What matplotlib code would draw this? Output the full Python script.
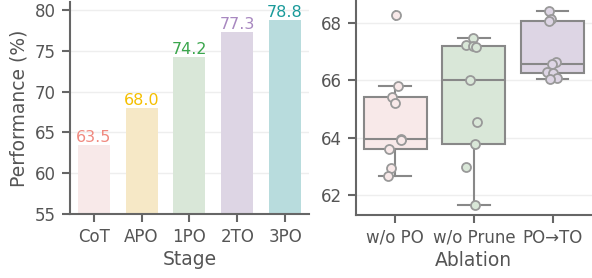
import numpy as np
import matplotlib
matplotlib.use("Agg")
import matplotlib.pyplot as plt

# ---- data ----
stages = ["CoT", "APO", "1PO", "2TO", "3PO"]
stage_perf = [63.5, 68.0, 74.2, 77.3, 78.8]
bar_colors = ["#f8e9e9", "#f6e8c6", "#d9e7d8", "#ddd5e4", "#b8dcdd"]
label_colors = ["#f08a80", "#f5bf00", "#3aa64c", "#a888c0", "#1a9a9a"]

ablations = ["w/o PO", "w/o Prune", "PO\u2192TO"]
wo_po = [68.28, 65.80, 65.43, 65.20, 63.94, 63.90, 63.59, 62.93, 62.64]
wo_prune = [67.49, 67.22, 67.20, 67.15, 66.00, 64.53, 63.78, 62.98, 61.65]
po_to = [68.42, 68.14, 68.05, 66.64, 66.56, 66.27, 66.24, 66.07, 66.05]
box_colors = ["#f8e9e9", "#d9e7d8", "#ddd5e4"]

plt.rcParams["font.family"] = "DejaVu Sans"
TXT = "#555555"
SPINE = "#666666"

fig = plt.figure(figsize=(5.92, 2.78), dpi=100)
ax1 = fig.add_axes([0.118, 0.230, 0.404, 0.763])
ax2 = fig.add_axes([0.601, 0.227, 0.399, 0.773])

# ---- left: bars ----
x = np.arange(len(stages))
ax1.bar(x, stage_perf, width=0.67, color=bar_colors, zorder=2)
for xi, v, c in zip(x, stage_perf, label_colors):
    ax1.text(xi, v, f"{v:.1f}", ha="center", va="bottom", color=c, fontsize=11.5)
ax1.set_xlim(-0.5, 4.5)
ax1.set_ylim(55, 81)
ax1.set_yticks([55, 60, 65, 70, 75, 80])
ax1.set_xticks(x)
ax1.set_xticklabels(stages)
ax1.set_xlabel("Stage", fontsize=13.5, color=TXT, labelpad=3)
ax1.set_ylabel("Performance (%)", fontsize=13.5, color=TXT, labelpad=5)

# ---- right: boxes ----
data = [wo_po, wo_prune, po_to]
bp = ax2.boxplot(data, positions=range(3), widths=0.8, patch_artist=True,
                 medianprops=dict(color="#888888", linewidth=1.5),
                 boxprops=dict(edgecolor="#888888", linewidth=1.5),
                 whiskerprops=dict(color="#888888", linewidth=1.5),
                 capprops=dict(color="#888888", linewidth=1.5),
                 flierprops=dict(marker="d", markerfacecolor="#888888",
                                 markeredgecolor="#888888", markersize=5),
                 capwidths=0.4, zorder=2)
for patch, c in zip(bp["boxes"], box_colors):
    patch.set_facecolor(c)

rng = np.random.RandomState(3)
for i, (vals, c) in enumerate(zip(data, box_colors)):
    jit = rng.uniform(-0.1, 0.1, len(vals))
    ax2.scatter(i + jit, vals, s=42, facecolor=c, edgecolor="#999999",
                linewidth=1.3, zorder=3)

ax2.set_xlim(-0.5, 2.5)
ax2.set_ylim(61.3, 68.8)
ax2.set_yticks([62, 64, 66, 68])
ax2.set_xticks(range(3))
ax2.set_xticklabels(ablations)
ax2.set_xlabel("Ablation", fontsize=13.5, color=TXT, labelpad=3)

for ax in (ax1, ax2):
    ax.grid(axis="y", color="#eeeeee", linewidth=1, zorder=0)
    ax.set_axisbelow(True)
    for s in ("top", "right"):
        ax.spines[s].set_visible(False)
    for s in ("left", "bottom"):
        ax.spines[s].set_color(SPINE)
        ax.spines[s].set_linewidth(1.5)
    ax.tick_params(colors=SPINE, labelcolor=TXT, labelsize=12, width=1.5,
                   length=6, pad=4)

fig.savefig("out.png", dpi=100)
